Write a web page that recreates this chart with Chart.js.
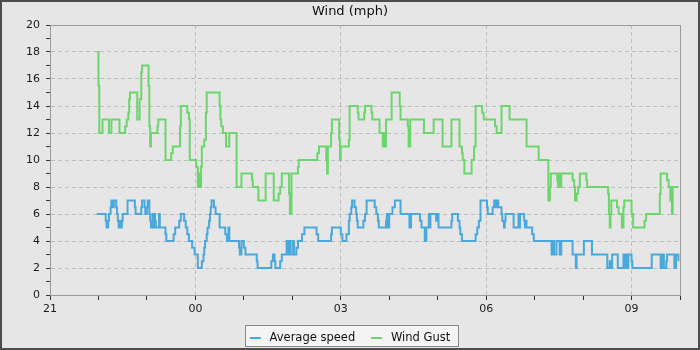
<!DOCTYPE html>
<html lang="en">
<head>
<meta charset="UTF-8">
<title>Wind (mph)</title>
<script src="https://cdn.jsdelivr.net/npm/chart.js"></script>
<style>
  html, body { margin: 0; padding: 0; background: #e6e6e6; }
  #marco { width: 700px; height: 350px; box-sizing: border-box; border: 2px solid #4d4d4d; background: #e6e6e6; }
  #marco canvas { display: block; }
</style>
</head>
<body>
<div id="marco"><canvas id="grafica"></canvas></div>
<script>
// hours shown on the time axis (24 = midnight of the next day)
const majorHours = [21, 24, 27, 30, 33];
const hourLabels = ['21', '00', '03', '06', '09'];

// wind gust: time the value starts, value in mph
const gustTimes = [
  '21:58','22:00','22:01','22:05','22:13','22:16','22:26','22:33','22:35','22:37',
  '22:38','22:39','22:48','22:51','22:53','22:54','23:02','23:03','23:04','23:05',
  '23:13','23:14','23:23','23:30','23:32','23:41','23:42','23:50','23:52','23:53',
  '00:01','00:03','00:05','00:06','00:07','00:08','00:11','00:13','00:14','00:30',
  '00:31','00:32','00:34','00:38','00:42','00:51','00:57','01:10','01:11','01:18',
  '01:27','01:37','01:43','01:45','01:47','01:56','01:57','01:59','02:07','02:08',
  '02:31','02:33','02:42','02:43','02:44','02:48','02:49','02:58','02:59','03:00',
  '03:10','03:11','03:21','03:22','03:29','03:30','03:38','03:39','03:48','03:52',
  '03:53','03:54','03:56','04:03','04:13','04:14','04:23','04:24','04:26','04:43',
  '04:55','05:06','05:17','05:27','05:30','05:31','05:33','05:42','05:45','05:47',
  '05:55','05:57','06:11','06:13','06:19','06:29','06:50','07:05','07:17','07:19',
  '07:20','07:28','07:29','07:30','07:31','07:33','07:47','07:49','07:50','07:52',
  '07:54','07:56','08:04','08:05','08:31','08:32','08:33','08:34','08:35','08:42',
  '08:44','08:48','08:50','08:51','09:00','09:02','09:16','09:18','09:35','09:36',
  '09:44','09:46','09:48','09:49','09:50','09:51','09:58'
];
const gustValues = [
  18,15.5,12,13,12,13,12,12.5,13,13.5,
  14.5,15,13,14.5,16.5,17,15.5,12.5,11,12,
  12.5,13,10,10.5,11,12.5,14,13.5,13,10,
  9.5,8,9,8,9.5,11,11.5,13.5,15,14,
  13,12.5,12,11,12,8,9,8.5,8,7,
  9,7,7.5,8,9,7.5,6,9,9.5,10,
  10.5,11,10,9,11,12,13,11.5,10,11,
  11.5,14,13.5,13,13.5,14,13.5,13,12,11,
  12,11,13,15,14,13,12.5,11,13,12,
  13,11,13,11,10.5,10,9,10,11,14,
  13.5,13,12.5,12,14,13,11,10,7,8,
  9,8.5,8,9,8,9,8.5,8,7,7.5,
  8,9,8.5,8,7.5,6,5,6,7,6.5,
  6,5,6.5,7,6,5,5.5,6,7.5,9,
  8.5,8,7,8,6,8,8
];

// average speed
const avgTimes = [
  '21:58','22:09','22:10','22:12','22:13','22:15','22:16','22:18','22:19','22:22',
  '22:23','22:24','22:25','22:27','22:28','22:29','22:30','22:36','22:45','22:46',
  '22:53','22:54','22:57','22:58','23:00','23:01','23:03','23:04','23:05','23:07',
  '23:08','23:09','23:10','23:11','23:15','23:16','23:23','23:24','23:33','23:35',
  '23:40','23:42','23:46','23:48','23:50','23:52','23:56','23:59','00:03','00:08',
  '00:10','00:11','00:12','00:14','00:15','00:17','00:18','00:19','00:20','00:23',
  '00:25','00:30','00:37','00:39','00:41','00:42','00:54','00:55','00:57','01:00',
  '01:02','01:16','01:17','01:34','01:36','01:38','01:39','01:45','01:47','01:53',
  '01:55','01:57','01:58','02:01','02:02','02:05','02:07','02:12','02:15','02:30',
  '02:32','02:48','02:49','03:00','03:02','03:07','03:10','03:11','03:13','03:14',
  '03:17','03:19','03:20','03:21','03:28','03:30','03:32','03:42','03:44','03:46',
  '03:47','03:56','03:57','03:58','04:00','04:04','04:07','04:14','04:25','04:27',
  '04:38','04:40','04:44','04:46','04:49','04:50','04:51','04:58','04:59','05:01',
  '05:17','05:18','05:25','05:27','05:28','05:30','05:47','05:49','05:51','05:53',
  '06:01','06:02','06:08','06:10','06:12','06:13','06:15','06:19','06:20','06:22',
  '06:23','06:24','06:34','06:40','06:41','06:42','06:47','06:48','06:49','06:50',
  '06:57','06:59','07:21','07:23','07:24','07:27','07:31','07:33','07:47','07:51',
  '07:52','08:01','08:11','08:30','08:33','08:34','08:36','08:43','08:50','08:52',
  '08:53','08:55','08:56','09:00','09:01','09:25','09:36','09:38','09:40','09:43',
  '09:44','09:53','09:55','09:58'
];
const avgValues = [
  6,5.5,5,5.5,6,6.5,7,6.5,7,6.5,
  6,5.5,5,5.5,5,5.5,6,7,6.5,6,
  6.5,7,6.5,6,6.5,7,6,5.5,5,6,
  5,6,5.5,5,6,5,4.5,4,4.5,5,
  5.5,6,5.5,5,4.5,4,3.5,3,2,2.5,
  3,3.5,4,4.5,5,5.5,6,6.5,7,6.5,
  6,5,4.5,4,5,4,3.5,3,4,3.5,
  3,2.5,2,2.5,3,2.5,2,2.5,3,4,
  3,4,3,4,3,3.5,4,4.5,5,4.5,
  4,4.5,5,4.5,4,4.5,5.5,6,6.5,7,
  6.5,6,5.5,5,5.5,6,7,6.5,6,5.5,
  5,5.5,6,5,6,6.5,7,6,5,6,
  5.5,5,4,5,6,5,6,5.5,6,5,
  5.5,6,5.5,5,4.5,4,4.5,5,5.5,7,
  6.5,6,6.5,7,6.5,7,6.5,6,5.5,5,
  5.5,6,5,6,5,6,5.5,5,5.5,5,
  4.5,4,3,4,3,4,3,4,3,2,
  3,4,3,2,2.5,2,3,2,3,2,
  3,2,3,2.5,2,3,2,3,2,2.5,
  3,2,3,2.5
];

const azul = 'rgb(74,168,220)';
const verde = 'rgb(108,214,108)';
const fuente = "'DejaVu Sans', sans-serif";

function toHour(t) {
  const [h, m] = t.split(':').map(Number);
  return (h < 21 ? h + 24 : h) + m / 60;
}
const toPoints = (times, values) => times.map((t, i) => ({ x: toHour(t), y: values[i] }));

// short legend dash, drawn at the left of a wider box so the text sits further away
function marca(color) {
  const c = document.createElement('canvas');
  c.width = 14;
  c.height = 2;
  const g = c.getContext('2d');
  g.fillStyle = color;
  g.fillRect(0, 0, 11, 2);
  return c;
}

// plot frame and legend box
const marcos = {
  id: 'marcos',
  beforeDraw(chart) {
    const boxes = chart.legend && chart.legend.legendHitBoxes;
    if (!boxes || !boxes.length) return;
    const ctx = chart.ctx;
    const left = Math.round(Math.min(...boxes.map(b => b.left)) - 5);
    const right = Math.round(Math.max(...boxes.map(b => b.left + b.width)) + 9);
    const mid = boxes[0].top + boxes[0].height / 2;
    const top = Math.round(mid - 13);
    ctx.save();
    ctx.fillStyle = '#f4f4f4';
    ctx.fillRect(left, top, right - left, 22);
    ctx.strokeStyle = '#8a8a8a';
    ctx.lineWidth = 1;
    ctx.strokeRect(left + 0.5, top + 0.5, right - left - 1, 21);
    ctx.restore();
  },
  beforeDatasetsDraw(chart) {
    const { ctx, chartArea: a } = chart;
    ctx.save();
    ctx.strokeStyle = '#9a9a9a';
    ctx.lineWidth = 1;
    ctx.strokeRect(Math.round(a.left) + 0.5, Math.round(a.top) + 0.5,
      Math.round(a.right - a.left), Math.round(a.bottom - a.top));
    ctx.restore();
  }
};

new Chart(document.getElementById('grafica'), {
  type: 'line',
  data: {
    datasets: [
      {
        label: 'Average speed',
        data: toPoints(avgTimes, avgValues),
        borderColor: azul,
        backgroundColor: azul,
        borderWidth: 2,
        pointRadius: 0,
        pointStyle: marca(azul),
        stepped: true,
        fill: false
      },
      {
        label: 'Wind Gust',
        data: toPoints(gustTimes, gustValues),
        borderColor: verde,
        backgroundColor: verde,
        borderWidth: 2,
        pointRadius: 0,
        pointStyle: marca(verde),
        stepped: true,
        fill: false
      }
    ]
  },
  options: {
    responsive: true,
    maintainAspectRatio: false,
    animation: false,
    events: [],
    layout: { padding: 0 },
    plugins: {
      title: {
        display: true,
        text: 'Wind (mph)',
        color: '#111',
        font: { family: fuente, size: 13, weight: 'normal' },
        padding: { top: 2, bottom: 5.4 }
      },
      legend: {
        position: 'bottom',
        maxHeight: 32,
        labels: {
          usePointStyle: true,
          pointStyleWidth: 14,
          padding: 16,
          color: '#111',
          font: { family: fuente, size: 11.5 }
        }
      },
      tooltip: { enabled: false }
    },
    scales: {
      x: {
        type: 'linear',
        min: 21,
        max: 34,
        afterFit: s => { s.height = 21; },
        ticks: {
          stepSize: 1,
          autoSkip: false,
          maxRotation: 0,
          padding: 3,
          color: '#1a1a1a',
          font: { family: fuente, size: 11 },
          callback: v => {
            const i = majorHours.indexOf(v);
            return i >= 0 ? hourLabels[i] : '';
          }
        },
        grid: {
          color: c => (c.tick && majorHours.includes(c.tick.value)) ? '#bfbfbf' : 'rgba(0,0,0,0)',
          tickColor: '#333',
          tickLength: 5
        },
        border: { color: '#9a9a9a', dash: [4, 3] }
      },
      y: {
        min: 0,
        max: 20,
        afterFit: s => { s.width = 48; },
        ticks: {
          stepSize: 1,
          autoSkip: false,
          padding: 6,
          color: '#1a1a1a',
          font: { family: fuente, size: 11 },
          callback: v => (v % 2 === 0 ? v : '')
        },
        grid: {
          color: c => (c.tick && c.tick.value % 2 === 0) ? '#bfbfbf' : 'rgba(0,0,0,0)',
          tickColor: '#333',
          tickLength: 4
        },
        border: { color: '#9a9a9a', dash: [4, 3] }
      },
      // empty right-hand margin, keeps the legend centred on the whole canvas
      margen: {
        type: 'linear',
        position: 'right',
        min: 0,
        max: 1,
        afterFit: s => { s.width = 18; },
        ticks: { display: false },
        grid: { display: false, drawTicks: false },
        border: { display: false }
      }
    }
  },
  plugins: [marcos]
});
</script>
</body>
</html>
